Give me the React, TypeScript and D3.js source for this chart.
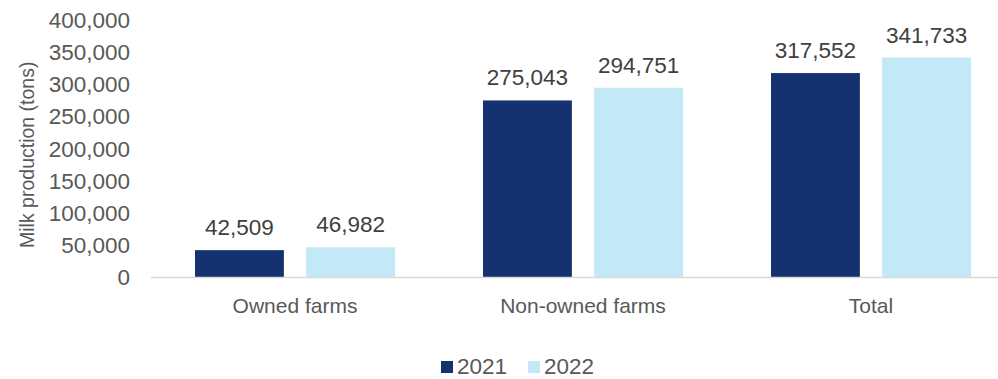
import React from "react";
import * as d3 from "d3";

const categories = ["Owned farms", "Non-owned farms", "Total"];
const seriesNames = ["2021", "2022"];
const values2021 = [42509, 275043, 317552];
const values2022 = [46982, 294751, 341733];
const yTicks = [0, 50000, 100000, 150000, 200000, 250000, 300000, 350000, 400000];
const yTitle = "Milk production (tons)";

const colors = ["#14326F", "#C3E9F7"];
const W = 998;
const H = 379;
const FONT = "'Liberation Sans', Arial, sans-serif";

export default function App() {
  const x = d3.scaleBand<string>().domain(categories).range([151, 1015]).paddingInner(0.3056).paddingOuter(0.1528);
  const xi = d3.scaleBand<string>().domain(seriesNames).range([0, x.bandwidth()]).paddingInner(0.2);
  const y = d3.scaleLinear().domain([0, 400000]).range([277.5, 20]);
  const fmt = d3.format(",");
  const series = [values2021, values2022];

  return (
    <svg width={W} height={H} style={{ position: "absolute", left: 0, top: 0 }} fontFamily={FONT}>
      <rect width={W} height={H} fill="#fff" />
      {yTicks.map((t) => (
        <text key={t} x={130} y={y(t)} dy="0.35em" textAnchor="end" fontSize={22.5} fill="#595959">
          {fmt(t)}
        </text>
      ))}
      <text transform={`translate(27,${(y(0) + y(400000)) / 2 + 6}) rotate(-90)`} textAnchor="middle" dy="0.35em" fontSize={19.5} fill="#595959">
        {yTitle}
      </text>
      {categories.map((c, ci) =>
        seriesNames.map((s, si) => {
          const v = series[si][ci];
          const bx = (x(c) as number) + (xi(s) as number);
          return (
            <g key={c + s}>
              <rect x={bx} y={y(v)} width={xi.bandwidth()} height={y(0) - y(v)} fill={colors[si]} />
              <text x={bx + xi.bandwidth() / 2} y={y(v) - 15} textAnchor="middle" fontSize={22.5} fill="#404040">
                {fmt(v)}
              </text>
            </g>
          );
        })
      )}
      <line x1={151} x2={W} y1={y(0)} y2={y(0)} stroke="#D9D9D9" strokeWidth={1.5} />
      {categories.map((c) => (
        <text key={c} x={(x(c) as number) + x.bandwidth() / 2} y={313} textAnchor="middle" fontSize={21} fill="#595959">
          {c}
        </text>
      ))}
      {seriesNames.map((s, i) => {
        const lx = [441, 528][i];
        return (
          <g key={s}>
            <rect x={lx} y={361} width={12} height={12} fill={colors[i]} />
            <text x={lx + 16} y={374} fontSize={22.5} fill="#595959">
              {s}
            </text>
          </g>
        );
      })}
    </svg>
  );
}
